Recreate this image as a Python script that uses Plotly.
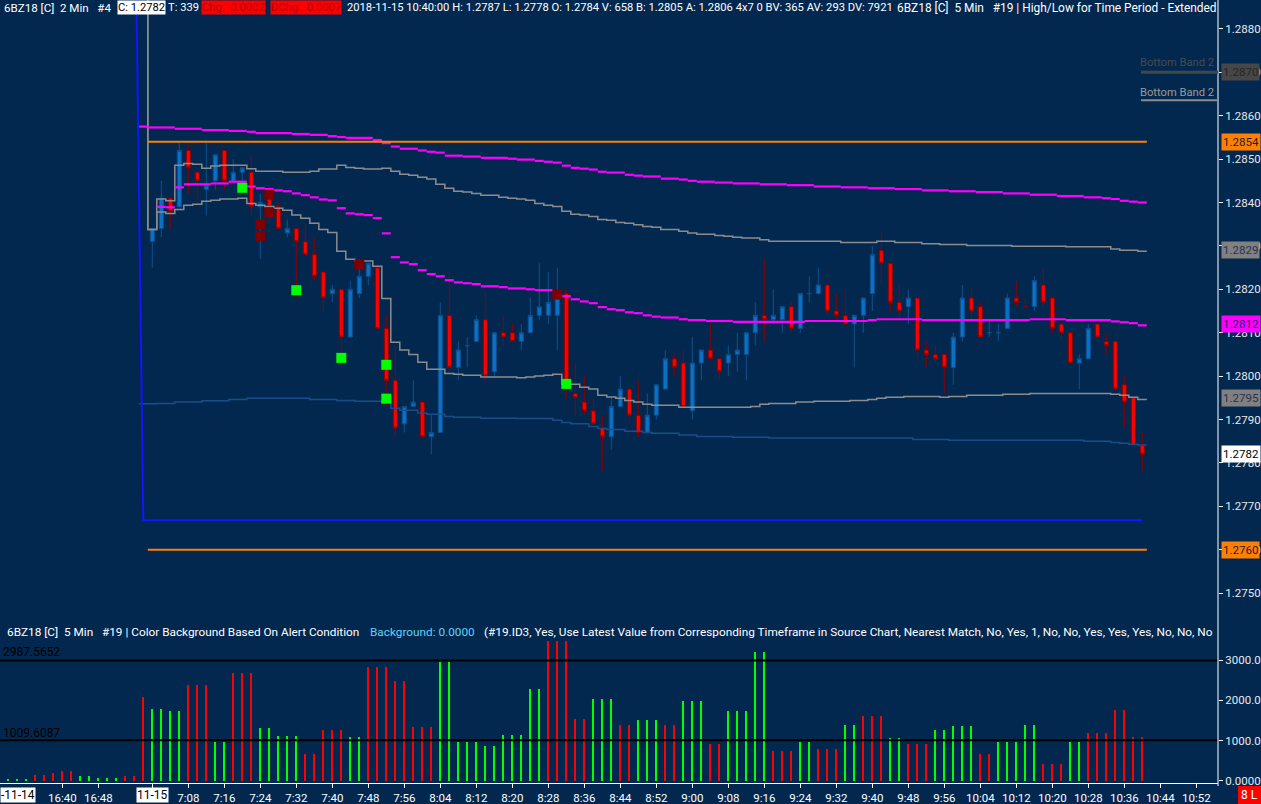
import plotly.graph_objects as go

W, H = 1261, 804
BG = "#022850"
FONT = "Roboto"

# 2-min bars, index 0 = 11-15 07:00, index -16 = 11-14 16:28
bars = list(range(0, 111))

opens = [1.2831, 1.2834, 1.2841, 1.2839, 1.2852, 1.2847, 1.2843, 1.2845, 1.2852, 1.2845,
         1.2847, 1.2847, 1.2839, 1.2841, 1.2839, 1.2833, 1.2834, 1.2831, 1.2828, 1.2824,
         1.2819, 1.2820, 1.2809, 1.2819, 1.2823, 1.2825, 1.2811, 1.2799, 1.2789, 1.2793,
         1.2794, 1.2786, 1.2787, 1.2814, 1.2802, 1.2807, 1.2808, 1.2813, 1.2801, 1.2810,
         1.2810, 1.2808, 1.2810, 1.2814, 1.2814, 1.2814, 1.2819, 1.2796, 1.2794, 1.2792,
         1.2788, 1.2786, 1.2793, 1.2797, 1.2791, 1.2787, 1.2791, 1.2797, 1.2804, 1.2803,
         1.2792, 1.2803, 1.2806, 1.2804, 1.2803, 1.2805, 1.2805, 1.2810, 1.2814, 1.2813,
         1.2813, 1.2816, 1.2811, 1.2819, 1.2819, 1.2821, 1.2815, 1.2814, 1.2812, 1.2814,
         1.2819, 1.2829, 1.2826, 1.2817, 1.2816, 1.2818, 1.2806, 1.2805, 1.2805, 1.2802,
         1.2809, 1.2818, 1.2816, 1.2810, 1.2810, 1.2811, 1.2818, 1.2816, 1.2816, 1.2821,
         1.2818, 1.2812, 1.2810, 1.2803, 1.2804, 1.2812, 1.2808, 1.2808, 1.2798, 1.2795, 1.2784]
highs = [1.2834, 1.2845, 1.2841, 1.2854, 1.2853, 1.2847, 1.2854, 1.2851, 1.2852, 1.2850,
         1.2848, 1.2851, 1.2842, 1.2844, 1.2840, 1.2836, 1.2834, 1.2835, 1.2832, 1.2824,
         1.2821, 1.2820, 1.2822, 1.2827, 1.2826, 1.2825, 1.2814, 1.2807, 1.2793, 1.2799,
         1.2794, 1.2791, 1.2817, 1.2824, 1.2808, 1.2809, 1.2814, 1.2819, 1.2810, 1.2814,
         1.2812, 1.2812, 1.2818, 1.2826, 1.2824, 1.2825, 1.2820, 1.2803, 1.2800, 1.2795,
         1.2791, 1.2795, 1.2800, 1.2797, 1.2799, 1.2796, 1.2798, 1.2806, 1.2805, 1.2806,
         1.2809, 1.2806, 1.2812, 1.2804, 1.2807, 1.2810, 1.2810, 1.2817, 1.2827, 1.2820,
         1.2816, 1.2817, 1.2819, 1.2823, 1.2825, 1.2821, 1.2819, 1.2820, 1.2814, 1.2818,
         1.2830, 1.2833, 1.2826, 1.2821, 1.2820, 1.2818, 1.2808, 1.2807, 1.2805, 1.2810,
         1.2821, 1.2820, 1.2817, 1.2813, 1.2812, 1.2819, 1.2822, 1.2818, 1.2823, 1.2825,
         1.2818, 1.2812, 1.2810, 1.2805, 1.2812, 1.2812, 1.2810, 1.2808, 1.2800, 1.2795, 1.2787]
lows = [1.2825, 1.2832, 1.2834, 1.2839, 1.2842, 1.2840, 1.2837, 1.2843, 1.2843, 1.2845,
        1.2843, 1.2837, 1.2827, 1.2835, 1.2834, 1.2832, 1.2818, 1.2828, 1.2822, 1.2815,
        1.2817, 1.2802, 1.2809, 1.2818, 1.2821, 1.2811, 1.2793, 1.2786, 1.2787, 1.2793,
        1.2786, 1.2782, 1.2787, 1.2801, 1.2799, 1.2802, 1.2808, 1.2798, 1.2800, 1.2807,
        1.2808, 1.2806, 1.2810, 1.2813, 1.2812, 1.2806, 1.2795, 1.2791, 1.2791, 1.2789,
        1.2778, 1.2783, 1.2793, 1.2789, 1.2786, 1.2787, 1.2790, 1.2797, 1.2800, 1.2793,
        1.2790, 1.2799, 1.2804, 1.2799, 1.2800, 1.2801, 1.2799, 1.2807, 1.2808, 1.2812,
        1.2810, 1.2810, 1.2810, 1.2817, 1.2819, 1.2814, 1.2813, 1.2812, 1.2802, 1.2810,
        1.2815, 1.2821, 1.2815, 1.2813, 1.2812, 1.2804, 1.2802, 1.2803, 1.2796, 1.2798,
        1.2808, 1.2813, 1.2809, 1.2809, 1.2808, 1.2811, 1.2816, 1.2816, 1.2815, 1.2816,
        1.2810, 1.2808, 1.2803, 1.2797, 1.2804, 1.2808, 1.2805, 1.2797, 1.2788, 1.2784, 1.2778]
closes = [1.2834, 1.2841, 1.2838, 1.2852, 1.2848, 1.2845, 1.2844, 1.2851, 1.2845, 1.2847,
          1.2848, 1.2839, 1.2840, 1.2839, 1.2834, 1.2834, 1.2831, 1.2828, 1.2823, 1.2818,
          1.2820, 1.2809, 1.2820, 1.2823, 1.2826, 1.2811, 1.2799, 1.2788, 1.2793, 1.2794,
          1.2786, 1.2787, 1.2814, 1.2802, 1.2806, 1.2807, 1.2813, 1.2800, 1.2810, 1.2809,
          1.2808, 1.2810, 1.2814, 1.2816, 1.2817, 1.2818, 1.2797, 1.2795, 1.2792, 1.2789,
          1.2786, 1.2793, 1.2797, 1.2791, 1.2787, 1.2791, 1.2798, 1.2804, 1.2802, 1.2793,
          1.2803, 1.2806, 1.2804, 1.2801, 1.2805, 1.2806, 1.2810, 1.2814, 1.2813, 1.2814,
          1.2816, 1.2811, 1.2819, 1.2819, 1.2821, 1.2815, 1.2814, 1.2812, 1.2814, 1.2818,
          1.2828, 1.2826, 1.2817, 1.2815, 1.2818, 1.2806, 1.2805, 1.2804, 1.2802, 1.2809,
          1.2818, 1.2815, 1.2809, 1.2810, 1.2810, 1.2818, 1.2817, 1.2816, 1.2822, 1.2817,
          1.2811, 1.2810, 1.2803, 1.2804, 1.2811, 1.2809, 1.2807, 1.2797, 1.2794, 1.2784, 1.2782]

# stair-step studies: value holds from each start bar until the next start
upper_mag_start = [-1, 0, 3, 6, 9, 11, 12, 16, 18, 20, 21, 22, 25, 26, 27, 28, 30, 31, 32, 33,
                   35, 37, 40, 41, 43, 44, 45, 46, 47, 48, 49, 50, 51, 53, 54, 55, 57, 59, 60, 61,
                   63, 65, 68, 71, 74, 77, 80, 83, 86, 89, 92, 95, 98, 101, 104, 106, 107, 108, 109, 110]
upper_mag_val = [1.28575, 1.28573, 1.28570, 1.28567, 1.28565, 1.28563, 1.28560, 1.28558, 1.28556, 1.28553,
                 1.28551, 1.28549, 1.28544, 1.28537, 1.28529, 1.28524, 1.28520, 1.28517, 1.28515, 1.28508,
                 1.28506, 1.28503, 1.28501, 1.28499, 1.28496, 1.28494, 1.28492, 1.28485, 1.28480, 1.28478,
                 1.28476, 1.28471, 1.28469, 1.28464, 1.28462, 1.28460, 1.28455, 1.28453, 1.28450, 1.28448,
                 1.28446, 1.28444, 1.28442, 1.28440, 1.28437, 1.28435, 1.28433, 1.28431, 1.28428, 1.28426,
                 1.28424, 1.28421, 1.28418, 1.28415, 1.28412, 1.28410, 1.28408, 1.28404, 1.28402, 1.28400]

mid_mag_start = [1, 2, 3, 4, 7, 9, 11, 12, 13, 14, 15, 16, 17, 18, 19, 20, 21, 22, 23, 24,
                 25, 26, 27, 28, 29, 30, 31, 32, 33, 34, 35, 36, 37, 39, 40, 42, 43, 45, 46, 47,
                 48, 49, 50, 51, 52, 53, 54, 55, 56, 57, 59, 60, 62, 65, 73, 80, 81, 86, 98, 102,
                 107, 108, 109, 110]
mid_mag_val = [1.28390, 1.28389, 1.28435, 1.28442, 1.28444, 1.28448, 1.28437, 1.28433, 1.28431, 1.28428,
               1.28426, 1.28421, 1.28417, 1.28412, 1.28407, 1.28405, 1.28387, 1.28375, 1.28373, 1.28371,
               1.28364, 1.28329, 1.28274, 1.28262, 1.28258, 1.28244, 1.28235, 1.28230, 1.28221, 1.28216,
               1.28214, 1.28212, 1.28207, 1.28205, 1.28202, 1.28200, 1.28198, 1.28192, 1.28184, 1.28177,
               1.28172, 1.28168, 1.28159, 1.28154, 1.28152, 1.28147, 1.28145, 1.28140, 1.28137, 1.28135,
               1.28131, 1.28129, 1.28127, 1.28125, 1.28127, 1.28129, 1.28131, 1.28129, 1.28131, 1.28129,
               1.28126, 1.28124, 1.28122, 1.28117]

upper_gray_start = [-1, 0, 1, 2, 3, 4, 5, 6, 7, 8, 11, 12, 15, 18, 19, 21, 22, 23, 24, 26,
                    27, 28, 29, 30, 31, 32, 33, 34, 35, 36, 37, 39, 40, 41, 42, 43, 44, 45, 46, 47,
                    48, 49, 50, 51, 52, 53, 54, 55, 56, 57, 59, 60, 61, 63, 64, 65, 66, 68, 69, 77,
                    81, 83, 86, 88, 91, 96, 102, 107, 108, 110]
upper_gray_val = [1.29000, 1.28338, 1.28408, 1.28404, 1.28486, 1.28490, 1.28488, 1.28479, 1.28484, 1.28486,
                  1.28478, 1.28472, 1.28470, 1.28472, 1.28477, 1.28486, 1.28481, 1.28479, 1.28477, 1.28479,
                  1.28472, 1.28465, 1.28463, 1.28458, 1.28454, 1.28442, 1.28433, 1.28426, 1.28424, 1.28421,
                  1.28417, 1.28412, 1.28410, 1.28408, 1.28405, 1.28398, 1.28394, 1.28391, 1.28380, 1.28373,
                  1.28371, 1.28368, 1.28361, 1.28359, 1.28354, 1.28352, 1.28349, 1.28345, 1.28343, 1.28338,
                  1.28334, 1.28330, 1.28327, 1.28324, 1.28322, 1.28320, 1.28318, 1.28314, 1.28311, 1.28308,
                  1.28311, 1.28308, 1.28305, 1.28303, 1.28301, 1.28299, 1.28298, 1.28293, 1.28290, 1.28288]

lower_gray_start = [-1, 0, 1, 2, 3, 4, 5, 6, 7, 8, 10, 11, 12, 13, 14, 15, 16, 17, 18, 19,
                    20, 21, 22, 23, 25, 26, 27, 28, 29, 30, 31, 33, 34, 35, 37, 41, 42, 43, 44, 45,
                    46, 47, 48, 49, 50, 51, 52, 53, 54, 55, 56, 59, 67, 68, 69, 72, 74, 78, 80, 81,
                    82, 84, 88, 89, 91, 95, 98, 107, 108, 109, 110]
lower_gray_val = [1.29000, 1.28338, 1.28378, 1.28375, 1.28384, 1.28394, 1.28396, 1.28403, 1.28405, 1.28408,
                  1.28410, 1.28398, 1.28394, 1.28391, 1.28387, 1.28382, 1.28371, 1.28364, 1.28352, 1.28338,
                  1.28331, 1.28288, 1.28269, 1.28265, 1.28253, 1.28179, 1.28078, 1.28060, 1.28050, 1.28032,
                  1.28016, 1.28006, 1.28004, 1.28002, 1.27998, 1.27996, 1.27998, 1.28000, 1.28002, 1.28004,
                  1.27982, 1.27981, 1.27974, 1.27970, 1.27956, 1.27952, 1.27949, 1.27944, 1.27940, 1.27935,
                  1.27933, 1.27928, 1.27930, 1.27935, 1.27937, 1.27940, 1.27942, 1.27944, 1.27946, 1.27949,
                  1.27951, 1.27953, 1.27951, 1.27953, 1.27956, 1.27958, 1.27960, 1.27958, 1.27956, 1.27951,
                  1.27946]

dark_band_start = [-1, 1, 3, 6, 9, 11, 18, 21, 23, 26, 27, 28, 30, 31, 33, 34, 37, 41, 45, 46,
                   47, 49, 50, 51, 53, 55, 56, 59, 61, 65, 69, 85, 89, 104, 107, 108, 109, 110]
dark_band_val = [1.27936, 1.27937, 1.27940, 1.27943, 1.27946, 1.27949, 1.27946, 1.27944, 1.27942, 1.27939,
                 1.27926, 1.27921, 1.27915, 1.27912, 1.27907, 1.27905, 1.27903, 1.27902, 1.27898, 1.27893,
                 1.27890, 1.27884, 1.27879, 1.27877, 1.27873, 1.27870, 1.27868, 1.27864, 1.27861, 1.27859,
                 1.27857, 1.27854, 1.27852, 1.27850, 1.27847, 1.27845, 1.27843, 1.27841]

# high/low for time period
period_high = 1.2854
period_low = 1.2760
low_line_bars = [-2, -1, 110]
low_line_vals = [1.2925, 1.27668, 1.27668]

# alert markers
green_bars = [10, 16, 21, 26, 26, 46]
green_vals = [1.28434, 1.28198, 1.28042, 1.28026, 1.27948, 1.27982]
maroon_bars = [12, 12, 13, 13, 23, 45]
maroon_vals = [1.28350, 1.28323, 1.28418, 1.28377, 1.28257, 1.28188]

# volume panel (5 min values spread on 2 min bars)
vol_bars = list(range(-16, 111))
vol_values = [25, 25, 25, 149, 149, 190, 248, 248, 124, 124, 74, 74, 74, 124, 124, 2083,
              1785, 1785, 1744, 1744, 2380, 2380, 2380, 967, 967, 2686,
              2686, 2686, 1314, 1314, 1116, 1116, 1116, 669, 669, 1264,
              1264, 1264, 1091, 1091, 2826, 2826, 2826, 2479, 2479, 1339,
              1339, 1339, 2950, 2950, 967, 967, 967, 868, 868, 1140,
              1140, 1140, 2281, 2281, 3500, 3500, 3500, 1537, 1537, 2033,
              2033, 2033, 1388, 1388, 1512, 1512, 1512, 1388, 1388, 1983,
              1983, 1983, 917, 917, 1736, 1736, 1736, 3198, 3198, 744,
              744, 744, 967, 967, 793, 793, 793, 1388, 1388, 1612,
              1612, 1612, 1066, 1066, 917, 917, 917, 1264, 1264, 1364,
              1364, 1364, 669, 669, 967, 967, 967, 1388, 1388, 421,
              421, 421, 967, 967, 1190, 1190, 1190, 1760, 1760, 1091, 1091]
vol_dir = ("GGGRRRRRGGGGGRRR"
           "GGGGRRRGGR" "RRGGGGGRRR" "RRGGRRRRRR" "RRGGGGGGGG" "GGGGRRRRRG"
           "GGRRGGGRRG" "GGRRGGGGGR" "RRGGRRRGGR" "RRGGRRRGGG" "GGRRGGGGGR" "RRGGRRRRRRR")
vol_levels = [2987.5652, 1009.6087]

price_ticks = [1.2750, 1.2760, 1.2770, 1.2780, 1.2790, 1.2800, 1.2810, 1.2820,
               1.2830, 1.2840, 1.2850, 1.2860, 1.2870, 1.2880]
vol_ticks = [0, 1000, 2000, 3000]
vol_tick_text = ["0.0000", "1000.00", "2000.00", "3000.00"]
time_tick_bars = [-10, -6, 0] + list(range(4, 117, 4))
time_tick_text = ["16:40", "16:48", ""] + [
    "7:08", "7:16", "7:24", "7:32", "7:40", "7:48", "7:56", "8:04", "8:12", "8:20",
    "8:28", "8:36", "8:44", "8:52", "9:00", "9:08", "9:16", "9:24", "9:32", "9:40",
    "9:48", "9:56", "10:04", "10:12", "10:20", "10:28", "10:36", "10:44", "10:52"]

# price boxes on the right scale: value, background, text colour
price_boxes = [(1.2870, "#474747", "#262626"), (1.2854, "#ff8000", "#1c1c3c"),
               (1.2829, "#808080", "#2c3050"), (1.2812, "#ff00ff", "#202050"),
               (1.2795, "#808080", "#2c3050"), (1.2782, "#ffffff", "#000000"),
               (1.2760, "#ff8000", "#1c1c3c")]
band_marks = [(1.2870, "#474747", 3), (1.28636, "#8c8c8c", 2)]


def px(x):
    return x / W


def py(y):
    return 1 - y / H


def segments(starts, values, last):
    # flat piece per run, no risers
    xs, ys = [], []
    ends = starts[1:] + [last + 1]
    for s, e, v in zip(starts, ends, values):
        xs += [s - 0.5, e - 0.5, None]
        ys += [v, v, None]
    return xs, ys


def stairs(starts, values, last):
    xs = [s - 0.5 for s in starts] + [last + 0.5]
    ys = list(values) + [values[-1]]
    return xs, ys


last = bars[-1]
fig = go.Figure()


def add_line(xs, ys, color, width, shape="linear"):
    fig.add_trace(go.Scatter(x=xs, y=ys, mode="lines", line=dict(color=color, width=width, shape=shape),
                             hoverinfo="skip", showlegend=False, xaxis="x", yaxis="y"))


add_line(*stairs(dark_band_start, dark_band_val, last), "#1a4c88", 1.5, "hv")
add_line(*stairs(lower_gray_start, lower_gray_val, last), "#8c8c8c", 1.5, "hv")
add_line(*stairs(upper_gray_start, upper_gray_val, last), "#8c8c8c", 1.5, "hv")
add_line(*segments(upper_mag_start, upper_mag_val, last), "#ff00ff", 2.2)
add_line(*segments(mid_mag_start, mid_mag_val, last), "#ff00ff", 2.2)
add_line([bars[0] - 0.5, last + 0.5], [period_high, period_high], "#ff8000", 2)
add_line([bars[0] - 0.5, last + 0.5], [period_low, period_low], "#ff8000", 2)
add_line(low_line_bars, low_line_vals, "#1414ff", 2)

fig.add_trace(go.Candlestick(
    x=bars, open=opens, high=highs, low=lows, close=closes, whiskerwidth=0,
    increasing=dict(line=dict(color="#0f4f8c", width=1), fillcolor="#0a72c6"),
    decreasing=dict(line=dict(color="#8b0000", width=1), fillcolor="#ff0000"),
    hoverinfo="skip", showlegend=False, xaxis="x", yaxis="y"))

fig.add_trace(go.Scatter(x=maroon_bars, y=maroon_vals, mode="markers",
                         marker=dict(symbol="square", size=10, color="#800000"),
                         hoverinfo="skip", showlegend=False, xaxis="x", yaxis="y"))
fig.add_trace(go.Scatter(x=green_bars, y=green_vals, mode="markers",
                         marker=dict(symbol="square", size=10, color="#00ff00"),
                         hoverinfo="skip", showlegend=False, xaxis="x", yaxis="y"))

fig.add_trace(go.Bar(x=vol_bars, y=vol_values, width=0.26,
                     marker=dict(color=["#00ff00" if d == "G" else "#ff0000" for d in vol_dir], line=dict(width=0)),
                     hoverinfo="skip", showlegend=False, xaxis="x2", yaxis="y2"))

# bar 0 sits at 152.3 px, 9 px per bar
x_range = [(0 - 152.3) / 9, (1218 - 152.3) / 9]
shapes = []
for lv in vol_levels:
    shapes.append(dict(type="line", xref="paper", yref="y2", x0=0, x1=px(1218), y0=lv, y1=lv,
                       line=dict(color="#000000", width=2)))
shapes.append(dict(type="line", xref="paper", yref="paper", x0=px(1218), x1=px(1218), y0=py(786), y1=1,
                   line=dict(color="#ffffff", width=1)))
for val, col, wd in band_marks:
    shapes.append(dict(type="line", xref="paper", yref="y", x0=px(1141), x1=px(1218), y0=val, y1=val,
                       line=dict(color=col, width=wd)))
# red status box in the bottom right corner
shapes.append(dict(type="rect", xref="paper", yref="paper", x0=px(1238), x1=1, y0=0, y1=py(786),
                   fillcolor="#ff0000", line=dict(width=0)))

ann = []


def text(x, y, s, color="#ffffff", bg=None, size=12, anchor="left"):
    d = dict(x=px(x), y=py(y), xref="paper", yref="paper", text=s, showarrow=False,
             xanchor=anchor, yanchor="middle", font=dict(family=FONT, size=size, color=color), borderpad=0)
    if bg:
        d["bgcolor"] = bg
    ann.append(d)


HS = 11.2
# top study line
text(3, 8, "6BZ18 [C]  2 Min   #4", size=11.6)
text(117, 8, "C: 1.2782", color="#000000", bg="#ffffff", size=HS)
text(167, 8, "T: 339", size=HS)
text(201, 8, "Chg: -0.0002", color="#b00000", bg="#ff0000", size=HS)
text(270, 8, "DChg: -0.0007", color="#b00000", bg="#ff0000", size=HS)
text(346, 8, "2018-11-15 10:40:00 H: 1.2787 L: 1.2778 O: 1.2784 V: 658 B: 1.2805 A: 1.2806 4x7 0 "
             "BV: 365 AV: 293 DV: 7921", size=HS)
text(896, 8, "6BZ18 [C]  5 Min   #19 | High/Low for Time Period - Extended", size=11.9)

# bottom study line
BS = 11.8
text(6, 632, "6BZ18 [C]  5 Min   #19 | Color Background Based On Alert Condition", size=BS)
text(369, 632, "Background: 0.0000", color="#5fd3f5", size=BS)
text(483, 632, "(#19.ID3, Yes, Use Latest Value from Corresponding Timeframe in Source Chart, "
               "Nearest Match, No, Yes, 1, No, No, Yes, Yes, Yes, No, No, No", size=BS)
text(2, 652, "2987.5652", color="#000000", size=12)
text(2, 733, "1009.6087", color="#000000", size=12)

text(1215, 62, "Bottom Band 2", color="#4a4a4a", anchor="right", size=HS)
text(1215, 92, "Bottom Band 2", color="#9a9a9a", anchor="right", size=HS)

for val, bg, fg in price_boxes:
    ann.append(dict(x=px(1221), y=val, xref="paper", yref="y", text=f"{val:.4f}", showarrow=False,
                    xanchor="left", yanchor="middle", bgcolor=bg, borderpad=1,
                    font=dict(family=FONT, size=11.5, color=fg)))

text(0, 795, "-11-14", color="#000000", bg="#ffffff", size=12)
text(152.3, 795, "11-15", color="#000000", bg="#ffffff", anchor="center", size=12)
text(1249.5, 795, "8 L", color="#ffffff", anchor="center", size=12)

# no automargin: the tick labels must not shrink the plot area
fig.update_layout(
    width=W, height=H, margin=dict(l=0, r=0, t=0, b=0, autoexpand=False),
    paper_bgcolor=BG, plot_bgcolor=BG, showlegend=False,
    font=dict(family=FONT, size=12, color="#ffffff"),
    boxgap=0.35, bargap=0,
    xaxis=dict(domain=[0, px(1218)], range=x_range, anchor="y", showgrid=False, zeroline=False,
               showticklabels=False, ticks="", rangeslider=dict(visible=False), automargin=False),
    xaxis2=dict(domain=[0, px(1218)], range=x_range, anchor="y2", matches="x", showgrid=False,
                zeroline=False, tickmode="array", tickvals=time_tick_bars, ticktext=time_tick_text,
                ticks="outside", ticklen=4, tickcolor="#ffffff", showline=True, linecolor="#ffffff",
                tickfont=dict(family=FONT, size=11.5, color="#ffffff"), automargin=False),
    yaxis=dict(domain=[py(622), 1], range=[1.274332, 1.288668], side="right", anchor="x",
               showgrid=False, zeroline=False, tickmode="array", tickvals=price_ticks,
               ticktext=[f"{v:.4f}" for v in price_ticks], ticks="outside", ticklen=4,
               tickcolor="#ffffff", tickfont=dict(family=FONT, size=11.5, color="#e8e8e8"),
               automargin=False),
    yaxis2=dict(domain=[py(783), py(641)], range=[-50, 3474], side="right", anchor="x2",
                showgrid=False, zeroline=False, tickmode="array", tickvals=vol_ticks,
                ticktext=vol_tick_text, ticks="outside", ticklen=4, tickcolor="#ffffff",
                tickfont=dict(family=FONT, size=11.5, color="#e8e8e8"), automargin=False),
    shapes=shapes, annotations=ann,
)

page_css = ("var s=document.documentElement.style;s.margin='0';s.overflow='hidden';"
            "var b=document.body.style;b.margin='0';b.padding='0';b.overflow='hidden';"
            "b.background='" + BG + "';")
fig.write_html("out.html", config={"displayModeBar": False}, post_script=page_css)
